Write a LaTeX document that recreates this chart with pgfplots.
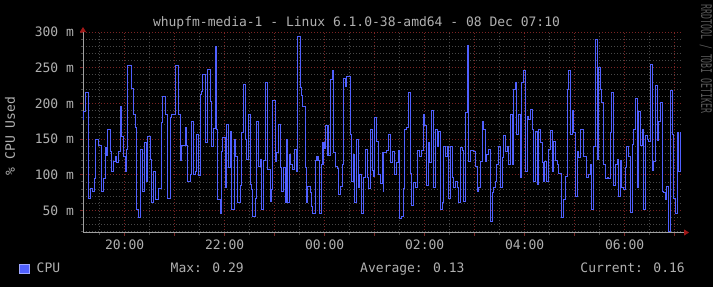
\documentclass[border=0pt]{standalone}
\usepackage{pgfplots}
\pgfplotsset{compat=1.18}
\usepackage{fontspec}
\setmainfont{DejaVu Sans Mono}
\usetikzlibrary{arrows.meta}
\definecolor{bg}{HTML}{000000}
\definecolor{txt}{HTML}{B0B0B0}
\definecolor{mgrid}{HTML}{7A2424}
\definecolor{ngrid}{HTML}{484848}
\definecolor{cpu}{HTML}{5060FF}
\definecolor{axl}{HTML}{A0A0A0}
\definecolor{arr}{HTML}{A01818}
\definecolor{wm}{HTML}{5A5A5A}
\begin{document}
\begin{tikzpicture}[x=1pt,y=1pt]
\fill[bg] (0,0) rectangle (713,287);
\useasboundingbox (0,0) rectangle (713,287);
\begin{axis}[
  at={(83pt,54.5pt)}, anchor=south west, scale only axis,
  width=600pt, height=200.5pt,
  xmin=0, xmax=720, ymin=19, ymax=300,
  axis x line=bottom, axis y line=left,
  axis line style={draw=axl, line width=0.8pt},
  x axis line style={-{Triangle[length=5pt,width=6pt,color=arr]}, shorten >=-6pt},
  y axis line style={-{Triangle[length=5pt,width=6pt,color=arr]}, shorten >=-5pt},
  xtick={50,110,...,710},
  xticklabels={20:00,,22:00,,00:00,,02:00,,04:00,,06:00,},
  minor xtick={20,80,...,680},
  ytick={50,100,...,300},
  yticklabels={50 m,100 m,150 m,200 m,250 m,300 m},
  minor ytick={20,30,40,60,70,80,90,110,120,130,140,160,170,180,190,210,220,230,240,260,270,280,290},
  grid=both,
  major grid style={draw=mgrid, dash pattern=on 1pt off 2pt, line width=0.65pt},
  minor grid style={draw=ngrid, dash pattern=on 1pt off 2pt, line width=0.65pt},
  tick align=outside, major tick length=3pt, minor tick length=2pt,
  major tick style={draw=mgrid, line width=0.7pt},
  minor tick style={draw=ngrid, line width=0.7pt},
  ticklabel style={font=\fontsize{13}{15}\selectfont, text=txt},
  yticklabel style={xshift=-2.5pt},
  xticklabel style={yshift=-0.5pt},
  clip=true,
]
\addplot[const plot, draw=cpu, line width=1pt] coordinates {
(0,177) (0.8,189) (2.8,215) (6.8,67) (9.2,80) (11.6,77) (14,95) (15.6,150) (18.8,141) (22,77) (24.8,95) (26.8,138) (28.8,127) (30,164) (33.2,133) (34,105) (36.8,119) (38.8,125) (40,117) (42.8,133) (44.8,195) (46.8,154) (48.8,125) (50.8,105) (52.8,135) (54,253) (58,221) (60.8,185) (62.8,166) (64.8,51) (66.8,40) (68.8,135) (72,77) (74,145) (76,90) (78,154) (80.8,121) (82,61) (84.8,105) (87.6,65) (90.8,81) (94,173) (95.6,210) (98.8,185) (102,67) (104.8,180) (106.8,185) (111.6,253) (114.8,185) (116.8,120)
(118.8,141) (122.8,166) (124.8,141) (126,91) (128.8,100) (130,175) (132.8,100) (134.8,105) (136,156) (138.8,99) (140.8,213) (142.8,216) (144,240) (146.8,145) (150,248) (152.8,202) (154,139) (156.8,165) (158.8,279) (160.8,163) (162,65) (164.8,45) (166,133) (168,152) (170.8,82) (172,170) (174.8,110) (176.8,160) (178.8,51) (182,149) (183.6,126) (186,61) (188.8,85) (190,159) (192.8,226) (194.8,149) (196,121) (198.8,185) (200.8,86) (202.8,79) (204,42) (206.8,67) (208,174) (210.8,111) (212.8,121) (214,51) (216.8,120) (218.8,229) (222,107) (224.8,63) (226.8,79) (228,204) (230.8,119) (232.8,131) (234.8,170) (236.8,110)
(238.8,77) (240.8,110) (242.8,61) (244,149) (246,61) (247.6,129) (249.6,114) (252,107) (254,135) (256,105) (258,294) (260.8,222) (262,211) (264,196) (266.8,110) (268,61) (270,84) (272.8,75) (274,56) (276,46) (278.8,120) (280,125) (282,120) (284,45) (286,114) (288,145) (290,137) (291.2,169) (294,127) (296.8,233) (298.8,246) (300.8,131) (302.8,111) (304.8,109) (306.8,72) (308.8,84) (310.8,115) (312.8,235) (314.8,224) (316,238) (318.8,237) (320.8,156) (322,91) (324,129) (326,61) (327.6,149) (330,82) (332,100) (334,45) (336.8,96) (338.8,135) (340.8,96) (342.8,80) (344.8,163) (346.8,106) (348.8,98) (350,180) (352,147) (354.8,100) (356.8,87)
(358.8,131) (360,77) (361,131) (364,134) (366.8,156) (368.8,117) (370.8,132) (374,100) (376,117) (378,134) (380,38) (382,41) (384,81) (386,163) (388,166) (390,215) (392.8,101) (394,57) (396,89) (398.8,82) (400.8,134) (403.6,126) (406,134) (408,185) (410,169) (412,85) (414,145) (416,117) (418,190) (420.8,82) (422.8,164) (424.8,140) (426.8,160) (428.8,51) (430.8,61) (432.8,140) (434.8,126) (436.8,140) (438.8,67) (440.8,139) (442.8,96) (444.8,82) (446.8,91) (448.8,82) (450.8,61) (452.8,138) (454.8,134) (456.8,63) (458.8,187) (460.8,281) (462.8,119) (464.8,134) (468.8,132) (470.8,111) (472.8,77) (474.8,82) (476.8,119)
(479.5,175) (480.8,163) (482.8,119) (484,128) (486,136) (488.8,35) (490.8,75) (492.8,82) (494.8,91) (496,115) (498,139) (500.8,82) (502.8,124) (504.8,155) (506.8,132) (508.8,140) (510,114) (512.8,185) (514.8,114) (516.8,219) (518.8,229) (520,157) (522,184) (524.8,96) (526,229) (528,246) (530.8,105) (532.8,181) (534.8,177) (536.8,191) (538.8,163) (540.8,91) (542.8,161) (544.8,86) (546.8,163) (548.8,145) (550.8,117) (552.8,91) (554,119) (556,91) (558.8,135) (560.8,162) (562.8,105) (564.8,147) (566.8,120) (568.8,115) (570.8,101) (574,40) (576.8,65) (578.8,98) (580.8,219) (582.8,246) (584.8,156) (586.8,190) (588.8,159) (590.8,70) (592.8,133) (594.8,124) (596.8,163)
(598.8,163) (600.8,125) (603.6,96) (606,100) (608.8,115) (610,51) (612.8,139) (614.8,289) (616.8,122) (618.8,250) (620.8,219) (622,201) (624.8,115) (626.8,95) (628.8,96) (630.8,95) (632.8,159) (634,215) (636.8,85) (638.8,115) (640.8,121) (642.8,70) (644.8,120) (646,82) (648,79) (650.8,110) (652,140) (654.8,125) (656.8,47) (658.8,143) (660.8,164) (662.8,207) (664.8,82) (666.8,188) (668.8,141) (670.8,164) (672.8,51) (674.8,155) (676.8,149) (678.8,146) (680.8,255) (682.8,106) (684.8,119) (686.8,225) (688.8,148) (690.8,174) (692.8,201) (694.8,77) (696.8,75) (698.8,65) (700,84) (702,21) (704.8,218) (706.8,156) (708.8,67) (710.8,45) (712.8,159) (714.8,105) (716.8,159) (718,159)
};
\end{axis}
\node[text=txt, font=\fontsize{13}{15}\selectfont] at (356.5,264) {whupfm-media-1 - Linux 6.1.0-38-amd64 - 08 Dec 07:10};
\node[text=txt, font=\fontsize{13}{15}\selectfont, rotate=90] at (10,151) {\% CPU Used};
\filldraw[fill=cpu, draw=cpu!55!white, line width=0.8pt] (19.5,14) rectangle (29.5,23);
\node[text=txt, font=\fontsize{13}{15}\selectfont, anchor=base west, inner sep=0pt] at (36.5,14.5) {CPU};
\node[text=txt, font=\fontsize{13}{15}\selectfont, anchor=base west, inner sep=0pt] at (170.5,14.5) {Max: 0.29};
\node[text=txt, font=\fontsize{13}{15}\selectfont, anchor=base west, inner sep=0pt] at (360,14.5) {Average: 0.13};
\node[text=txt, font=\fontsize{13}{15}\selectfont, anchor=base east, inner sep=0pt] at (685,14.5) {Current: 0.16};
\node[text=wm, font=\fontsize{8.2}{9}\selectfont, rotate=-90, inner sep=0pt] at (706,228) {\scalebox{1}[1.8]{RRDTOOL / TOBI OETIKER}};
\end{tikzpicture}
\end{document}
